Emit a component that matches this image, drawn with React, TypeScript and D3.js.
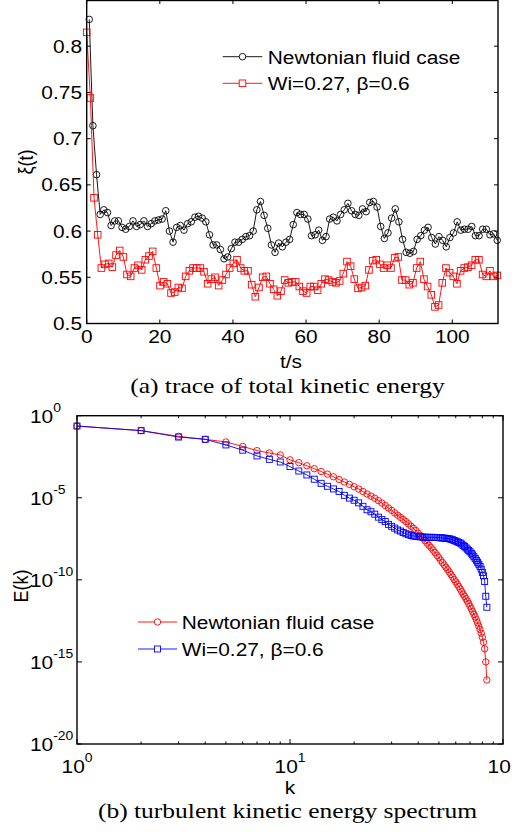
import React from "react";
import * as d3 from "d3";

// ---------- data: (a) trace of total kinetic energy ----------
const newtonianTrace = [0.829, 0.714, 0.661, 0.618, 0.623, 0.620, 0.606, 0.611, 0.611, 0.604, 0.602, 0.605, 0.611, 0.605, 0.607, 0.611, 0.605, 0.608, 0.611, 0.612, 0.613, 0.622, 0.600, 0.588, 0.604, 0.606, 0.601, 0.608, 0.610, 0.615, 0.616, 0.614, 0.610, 0.596, 0.585, 0.585, 0.580, 0.570, 0.572, 0.581, 0.588, 0.588, 0.591, 0.594, 0.595, 0.600, 0.623, 0.632, 0.617, 0.603, 0.585, 0.577, 0.587, 0.583, 0.588, 0.591, 0.607, 0.620, 0.618, 0.618, 0.613, 0.595, 0.596, 0.601, 0.590, 0.594, 0.613, 0.615, 0.611, 0.618, 0.623, 0.630, 0.622, 0.618, 0.617, 0.624, 0.621, 0.631, 0.632, 0.626, 0.605, 0.592, 0.598, 0.614, 0.624, 0.610, 0.591, 0.577, 0.576, 0.578, 0.591, 0.595, 0.601, 0.604, 0.593, 0.586, 0.594, 0.590, 0.583, 0.593, 0.598, 0.610, 0.601, 0.602, 0.602, 0.605, 0.595, 0.595, 0.602, 0.602, 0.596, 0.597, 0.590];
const viscoTrace = [0.815, 0.744, 0.636, 0.596, 0.560, 0.564, 0.565, 0.561, 0.574, 0.579, 0.572, 0.553, 0.551, 0.560, 0.563, 0.558, 0.569, 0.573, 0.578, 0.560, 0.541, 0.545, 0.543, 0.533, 0.534, 0.539, 0.538, 0.551, 0.557, 0.560, 0.560, 0.560, 0.556, 0.543, 0.548, 0.550, 0.541, 0.547, 0.553, 0.560, 0.565, 0.569, 0.560, 0.557, 0.557, 0.542, 0.529, 0.539, 0.550, 0.551, 0.543, 0.537, 0.530, 0.535, 0.547, 0.544, 0.545, 0.545, 0.540, 0.535, 0.533, 0.540, 0.540, 0.536, 0.543, 0.548, 0.547, 0.545, 0.544, 0.546, 0.554, 0.567, 0.562, 0.548, 0.538, 0.539, 0.541, 0.558, 0.568, 0.569, 0.564, 0.560, 0.563, 0.560, 0.571, 0.572, 0.547, 0.547, 0.542, 0.544, 0.560, 0.567, 0.548, 0.540, 0.531, 0.518, 0.520, 0.544, 0.560, 0.555, 0.551, 0.543, 0.557, 0.560, 0.561, 0.563, 0.569, 0.569, 0.553, 0.551, 0.557, 0.551, 0.552];
const newtonianStart = 0.7; // s
const newtonianStep = 111.6 / 112; // s per sample
const viscoStart = 0;
const viscoStep = 112.3 / 112;
const traceXTicks = [0, 20, 40, 60, 80, 100];
const traceYTicks = [0.5, 0.55, 0.6, 0.65, 0.7, 0.75, 0.8, 0.85];
const traceYLabels = ["0.5", "0.55", "0.6", "0.65", "0.7", "0.75", "0.8", ""];

// ---------- data: (b) turbulent kinetic energy spectrum (log10 E) ----------
const newtonianLogE = [-0.63, -0.91, -1.26, -1.44, -1.60, -1.87, -2.13, -2.27, -2.39, -2.69, -2.86, -3.05, -3.23, -3.40, -3.56, -3.72, -3.89, -4.04, -4.18, -4.33, -4.47, -4.62, -4.77, -4.90, -5.03, -5.17, -5.32, -5.47, -5.62, -5.77, -5.92, -6.06, -6.19, -6.32, -6.45, -6.59, -6.73, -6.86, -7.00, -7.16, -7.31, -7.46, -7.61, -7.76, -7.90, -8.04, -8.19, -8.34, -8.50, -8.65, -8.80, -8.95, -9.10, -9.24, -9.38, -9.53, -9.68, -9.83, -9.98, -10.12, -10.26, -10.41, -10.56, -10.72, -10.87, -11.01, -11.15, -11.29, -11.44, -11.60, -11.76, -11.93, -12.10, -12.26, -12.44, -12.62, -12.82, -13.02, -13.25, -13.50, -13.80, -14.20, -15.00, -16.10];
const viscoLogE = [-0.63, -0.91, -1.30, -1.44, -1.78, -2.10, -2.45, -2.66, -2.82, -3.10, -3.37, -3.61, -3.87, -4.12, -4.30, -4.46, -4.62, -4.85, -5.02, -5.15, -5.31, -5.52, -5.73, -5.85, -6.00, -6.18, -6.33, -6.45, -6.62, -6.74, -6.85, -6.96, -7.03, -7.12, -7.19, -7.25, -7.30, -7.33, -7.35, -7.37, -7.38, -7.39, -7.40, -7.41, -7.41, -7.41, -7.41, -7.42, -7.42, -7.43, -7.44, -7.45, -7.46, -7.47, -7.48, -7.50, -7.53, -7.56, -7.60, -7.64, -7.68, -7.72, -7.76, -7.82, -7.90, -7.97, -8.05, -8.13, -8.21, -8.29, -8.38, -8.48, -8.59, -8.70, -8.81, -8.93, -9.05, -9.18, -9.35, -9.55, -9.75, -10.10, -11.00, -11.67];
const specXMajor = [1, 10, 100];
const specXMajorExp = ["0", "1", "2"];
const specYMajorExp = [0, -5, -10, -15, -20];

const legendNewtonian = "Newtonian fluid case";
const legendVisco = "Wi=0.27, \u03B2=0.6";

const SANS = "'Liberation Sans', Arial, Helvetica, sans-serif";
const SERIF = "'Liberation Serif', 'Times New Roman', serif";
const SX = 1.16;

function T({ x, y, anchor = "start", size = 18, family = SANS, rot = 0, children }: any) {
  const tr = `translate(${x},${y}) scale(${SX},1)` + (rot ? ` rotate(${rot})` : "");
  return (
    <text transform={tr} textAnchor={anchor} fontSize={size} fontFamily={family} fill="#000">
      {children}
    </text>
  );
}

function Pow({ x, y, base = "10", exp, anchor = "start" }: any) {
  return (
    <text transform={`translate(${x},${y}) scale(${SX},1)`} textAnchor={anchor} fontFamily={SANS} fill="#000">
      <tspan fontSize={18}>{base}</tspan>
      <tspan fontSize={12} dy={-11}>{exp}</tspan>
    </text>
  );
}

export default function App() {
  // ---- panel (a) ----
  const aL = 86.7, aR = 498, aT = 0, aB = 323.5;
  const xA = d3.scaleLinear().domain([0, 112.5]).range([aL, aR]);
  const yA = d3.scaleLinear().domain([0.5, 0.85]).range([aB, aT]);
  const nPts = newtonianTrace.map((v, i) => [xA(newtonianStart + i * newtonianStep), yA(v)] as [number, number]);
  const vPts = viscoTrace.map((v, i) => [xA(viscoStart + i * viscoStep), yA(v)] as [number, number]);
  const lineGen = d3.line();

  // ---- panel (b) ----
  const bL = 77, bR = 503, bT = 415.7, bB = 744;
  const xB = d3.scaleLog().domain([1, 100]).range([bL, bR]);
  const yB = d3.scaleLog().domain([1e-20, 1]).range([bB, bT]);
  const ks = d3.range(1, newtonianLogE.length + 1);
  const nSpec = newtonianLogE.map((e, i) => [xB(ks[i]), yB(Math.pow(10, e))] as [number, number]);
  const vSpec = viscoLogE.map((e, i) => [xB(ks[i]), yB(Math.pow(10, e))] as [number, number]);
  const minorX: number[] = [];
  [1, 10].forEach((d) => { for (let m = 2; m <= 9; m++) minorX.push(d * m); });

  const tick = 4;

  return (
    <svg width={522} height={832} style={{ position: "absolute", left: 0, top: 0, background: "#fff" }}>
      <defs>
        <clipPath id="pageClip">
          <rect x={0} y={0} width={511} height={832} />
        </clipPath>
      </defs>
      <rect x={0} y={0} width={522} height={832} fill="#fff" />

      {/* ===== panel (a) ===== */}
      {traceXTicks.map((t) => (
        <g key={"ax" + t}>
          <line x1={xA(t)} x2={xA(t)} y1={aB} y2={aB - tick} stroke="#000" />
          <line x1={xA(t)} x2={xA(t)} y1={aT} y2={aT + tick} stroke="#000" />
          <T x={xA(t)} y={343} anchor="middle">{String(t)}</T>
        </g>
      ))}
      {traceYTicks.map((v, i) => (
        <g key={"ay" + v}>
          <line x1={aL} x2={aL + tick} y1={yA(v)} y2={yA(v)} stroke="#000" />
          <line x1={aR} x2={aR - tick} y1={yA(v)} y2={yA(v)} stroke="#000" />
          <T x={82} y={yA(v) + 6.5} anchor="end">{traceYLabels[i]}</T>
        </g>
      ))}
      <path d={lineGen(nPts) || ""} fill="none" stroke="#000" strokeWidth={0.9} />
      {nPts.map((p, i) => (
        <circle key={"nc" + i} cx={p[0]} cy={p[1]} r={3.3} fill="none" stroke="#000" strokeWidth={0.9} />
      ))}
      <path d={lineGen(vPts) || ""} fill="none" stroke="#ff0000" strokeWidth={0.9} />
      {vPts.map((p, i) => (
        <rect key={"vs" + i} x={p[0] - 3.3} y={p[1] - 3.3} width={6.6} height={6.6} fill="none" stroke="#ff0000" strokeWidth={0.9} />
      ))}
      <rect x={aL} y={aT + 0.5} width={aR - aL} height={aB - aT - 0.5} fill="none" stroke="#000" strokeWidth={1.4} />

      {/* legend (a) */}
      <line x1={222.7} x2={262.3} y1={56.7} y2={56.7} stroke="#000" strokeWidth={0.9} />
      <circle cx={242.5} cy={56.7} r={3.3} fill="#fff" stroke="#000" strokeWidth={0.9} />
      <T x={267.7} y={63.5}>{legendNewtonian}</T>
      <line x1={222.7} x2={262.3} y1={83.3} y2={83.3} stroke="#ff0000" strokeWidth={0.9} />
      <rect x={242.5 - 3.3} y={83.3 - 3.3} width={6.6} height={6.6} fill="#fff" stroke="#ff0000" strokeWidth={0.9} />
      <T x={267.7} y={90}>{legendVisco}</T>

      <T x={33} y={162} anchor="middle" rot={-90}>{"\u03BE(t)"}</T>
      <T x={291} y={368} anchor="middle">t/s</T>
      <T x={287.5} y={393} anchor="middle" size={22} family={SERIF}>(a) trace of total kinetic energy</T>

      {/* ===== panel (b) ===== */}
      {specXMajor.map((k) => (
        <g key={"bx" + k}>
          <line x1={xB(k)} x2={xB(k)} y1={bB} y2={bB - 5} stroke="#000" />
          <line x1={xB(k)} x2={xB(k)} y1={bT} y2={bT + 5} stroke="#000" />
        </g>
      ))}
      {minorX.map((k) => (
        <g key={"bm" + k}>
          <line x1={xB(k)} x2={xB(k)} y1={bB} y2={bB - 2.5} stroke="#000" />
          <line x1={xB(k)} x2={xB(k)} y1={bT} y2={bT + 2.5} stroke="#000" />
        </g>
      ))}
      <g clipPath="url(#pageClip)">
        {specXMajor.map((k, i) => (
          <Pow key={"bxl" + k} x={xB(k)} y={772.5} exp={specXMajorExp[i]} anchor="middle" />
        ))}
      </g>
      {specYMajorExp.map((e) => (
        <g key={"by" + e}>
          <line x1={bL} x2={bL + 5} y1={yB(Math.pow(10, e))} y2={yB(Math.pow(10, e))} stroke="#000" />
          <line x1={bR} x2={bR - 5} y1={yB(Math.pow(10, e))} y2={yB(Math.pow(10, e))} stroke="#000" />
          <Pow x={30} y={yB(Math.pow(10, e)) + 7} exp={String(e)} />
        </g>
      ))}
      <path d={lineGen(nSpec) || ""} fill="none" stroke="#ff0000" strokeWidth={0.9} />
      {nSpec.map((p, i) => (
        <circle key={"bn" + i} cx={p[0]} cy={p[1]} r={3.2} fill="none" stroke="#ff0000" strokeWidth={0.9} />
      ))}
      <path d={lineGen(vSpec) || ""} fill="none" stroke="#0000ff" strokeWidth={0.9} />
      {vSpec.map((p, i) => (
        <rect key={"bv" + i} x={p[0] - 3} y={p[1] - 3} width={6} height={6} fill="none" stroke="#0000ff" strokeWidth={0.9} />
      ))}
      <rect x={bL} y={bT} width={bR - bL} height={bB - bT} fill="none" stroke="#000" strokeWidth={1.4} />

      {/* legend (b) */}
      <line x1={138} x2={177} y1={622} y2={622} stroke="#ff0000" strokeWidth={0.9} />
      <circle cx={157.5} cy={622} r={3.2} fill="#fff" stroke="#ff0000" strokeWidth={0.9} />
      <T x={181.7} y={628.5}>{legendNewtonian}</T>
      <line x1={138} x2={177} y1={649} y2={649} stroke="#0000ff" strokeWidth={0.9} />
      <rect x={157.5 - 3} y={649 - 3} width={6} height={6} fill="#fff" stroke="#0000ff" strokeWidth={0.9} />
      <T x={181.7} y={655.5}>{legendVisco}</T>

      <T x={28} y={586} anchor="middle" rot={-90}>E(k)</T>
      <T x={290} y={793.5} anchor="middle">k</T>
      <T x={287.5} y={818} anchor="middle" size={22} family={SERIF}>(b) turbulent kinetic energy spectrum</T>
    </svg>
  );
}
